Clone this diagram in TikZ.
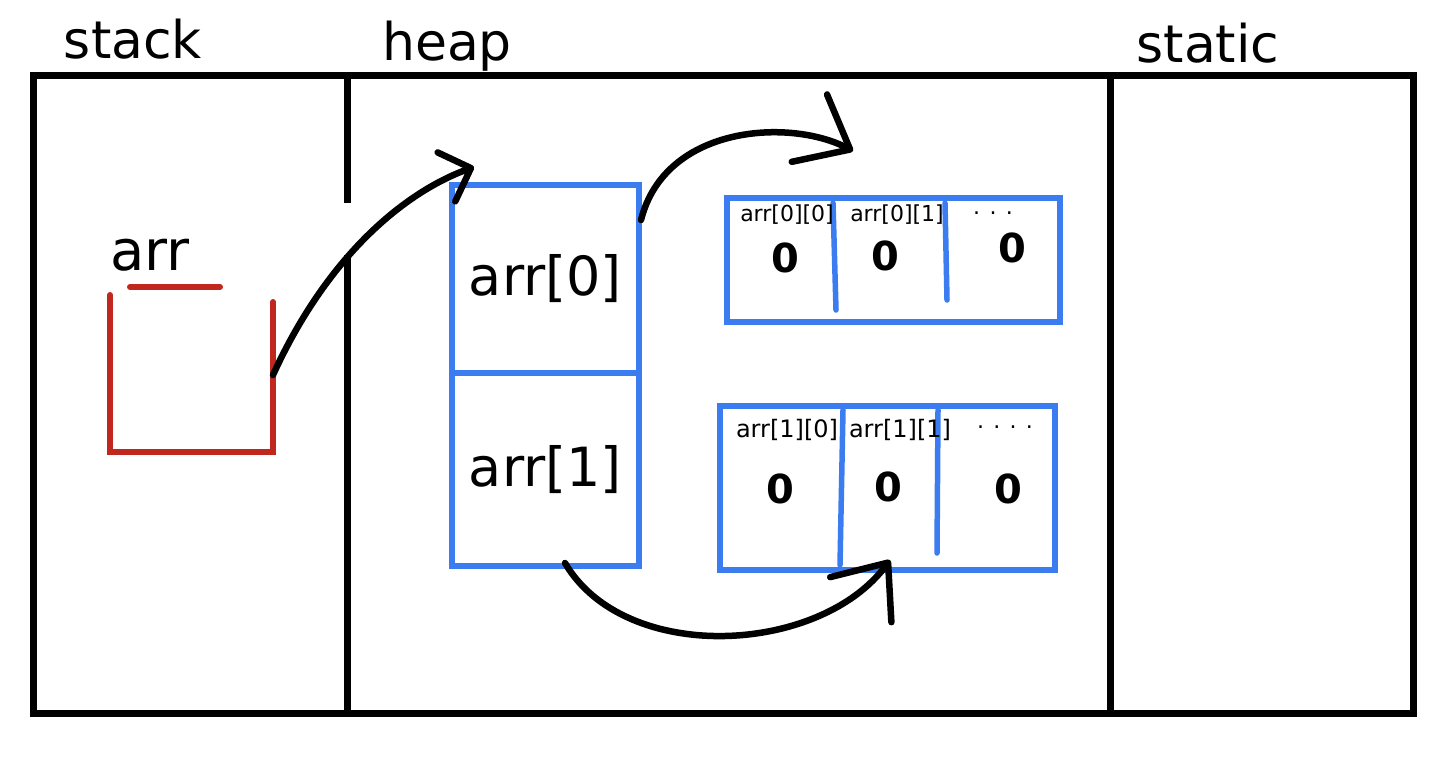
\documentclass[tikz,border=0pt]{standalone}
\usepackage{fontspec}
\setmainfont{DejaVu Sans}
\usepackage{tikz}
\usetikzlibrary{arrows.meta,positioning,calc}
\definecolor{cellblue}{RGB}{59,125,240}
\definecolor{stackred}{RGB}{192,40,30}

\begin{document}
\begin{tikzpicture}[
    x=1pt, y=-1pt,
    region/.style={draw=black, line width=7pt},
    heapcell/.style={rectangle, draw=cellblue, line width=6pt, minimum width=187pt, minimum height=188pt, inner sep=0pt, font=\fontsize{54}{54}\selectfont},
    arraybox/.style={rectangle, draw=cellblue, line width=6pt, inner sep=0pt},
    cellline/.style={draw=cellblue, line width=5.5pt, line cap=round},
    varbox/.style={draw=stackred, line width=6pt, line cap=round},
    title/.style={anchor=base, inner sep=0pt, font=\fontsize{52}{52}\selectfont},
    idx/.style={anchor=base, inner sep=0pt, font=\fontsize{22}{22}\selectfont},
    zero/.style={anchor=base, inner sep=0pt, font=\fontsize{40}{40}\selectfont\bfseries},
    ptr/.style={draw=black, line width=6.5pt, line cap=round, -{Straight Barb[length=46pt, width=76pt, round]}}
]
\useasboundingbox (0,0) rectangle (1456,758);

% memory regions
\draw[region] (33,75) rectangle (1413,713);
\draw[region] (347,75) -- (347,203);
\draw[region] (347,255) -- (347,716);
\draw[region] (1110,75) -- (1110,715);

\node[title] (stack) at (133,58) {stack};
\node[title] (heap) at (447,60) {heap};
\node[title] (static) at (1208,62) {static};

% stack variable
\node[title, font=\fontsize{56}{56}\selectfont] (arr) at (150,270) {arr};
\draw[varbox] (130,287) -- (220,287);
\draw[varbox] (110,295) -- (110,452) -- (273,452) -- (273,302);

% heap: outer array
\node[heapcell] (a0) at (545.5,279) {arr[0]};
\node[heapcell, minimum height=193pt] (a1) at (545.5,469.5) {arr[1]};

% heap: inner arrays
\node[arraybox, minimum width=333pt, minimum height=124pt] (row0) at (893.5,260) {};
\node[arraybox, minimum width=335pt, minimum height=164pt] (row1) at (887.5,488) {};

\draw[cellline] (833,203) -- (836,310);
\draw[cellline] (945,203) -- (947,300);
\draw[cellline] (843,410) -- (840,565);
\draw[cellline] (938,410) -- (937,553);

\node[idx] (e00) at (787,221) {arr[0][0]};
\node[idx] (e01) at (897,221) {arr[0][1]};
\node[idx] (e0d) at (993,214) {. . .};
\node[idx, font=\fontsize{24}{24}\selectfont] (e10) at (787,437) {arr[1][0]};
\node[idx, font=\fontsize{24}{24}\selectfont] (e11) at (900,437) {arr[1][1]};
\node[idx] (e1d) at (1005,428) {. . . .};

\node[zero] (z00) at (785,272) {0};
\node[zero] (z01) at (885,270) {0};
\node[zero] (z02) at (1012,262) {0};
\node[zero] (z10) at (780,503) {0};
\node[zero] (z11) at (888,501) {0};
\node[zero] (z12) at (1008,503) {0};

% pointers
\coordinate (arrout) at (273,375);
\coordinate (heapin) at (474,167);
\coordinate (a0out) at ($(a0.north east)+(-1,38)$);
\coordinate (row0in) at (853,151);
\coordinate (a1out) at (565,563);
\coordinate (row1in) at (890,560);

\draw[ptr, -{Straight Barb[length=26pt, width=52pt, round]}] (arrout) .. controls (330,250) and (410,190) .. (heapin);
\draw[ptr] (a0out) .. controls (665,125) and (790,118) .. (row0in);
\draw[ptr] (a1out) .. controls (625,665) and (820,655) .. (row1in);

\end{tikzpicture}
\end{document}
